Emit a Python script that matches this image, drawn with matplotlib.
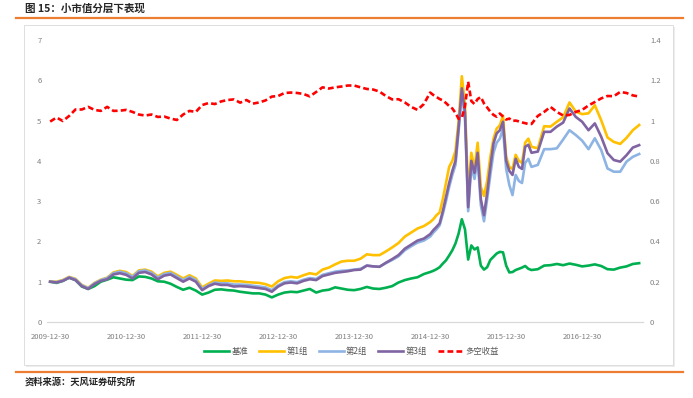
import matplotlib
matplotlib.use("Agg")
import matplotlib.pyplot as plt
from matplotlib.lines import Line2D
from matplotlib.patches import Rectangle

plt.rcParams["font.family"] = ["Noto Sans CJK SC", "DejaVu Sans"]

# Місяці від 2009-12-30 (у 2015 році крок півмісяця)
months = list(range(0, 60)) + [60 + 0.5 * i for i in range(33)] + list(range(77, 94))

tick_months = [0, 12, 24, 36, 48, 60, 72, 84]
tick_labels = ["2009-12-30", "2010-12-30", "2011-12-30", "2012-12-30",
               "2013-12-30", "2014-12-30", "2015-12-30", "2016-12-30"]

base = [
    1.00, 0.97, 1.02, 1.10, 1.04, 0.88, 0.82, 0.89, 1.00, 1.05,
    1.11, 1.08, 1.05, 1.04, 1.13, 1.12, 1.08, 1.01, 1.00, 0.95,
    0.87, 0.80, 0.85, 0.78, 0.68, 0.73, 0.80, 0.81, 0.79, 0.78,
    0.75, 0.73, 0.71, 0.71, 0.68, 0.61, 0.68, 0.73, 0.75, 0.74,
    0.78, 0.82, 0.73, 0.78, 0.80, 0.86, 0.83, 0.80, 0.79, 0.82,
    0.87, 0.83, 0.82, 0.85, 0.89, 0.98, 1.04, 1.08, 1.11, 1.19,
    1.24, 1.27, 1.31, 1.36, 1.45, 1.53, 1.65, 1.78, 1.95, 2.20, 2.55,
    2.30, 1.55, 1.90, 1.80, 1.85, 1.40, 1.30, 1.36, 1.54, 1.62, 1.70,
    1.74, 1.73, 1.40, 1.23, 1.24, 1.29, 1.32, 1.35, 1.39, 1.32, 1.29,
    1.31, 1.40, 1.41, 1.44, 1.41, 1.45, 1.42, 1.38, 1.40, 1.43,
    1.39, 1.31, 1.30, 1.35, 1.38, 1.44, 1.46,
]

group1 = [
    1.00, 1.00, 1.04, 1.12, 1.07, 0.92, 0.85, 0.97, 1.05, 1.10,
    1.23, 1.27, 1.24, 1.14, 1.28, 1.30, 1.25, 1.13, 1.22, 1.25,
    1.17, 1.08, 1.16, 1.08, 0.86, 0.95, 1.03, 1.02, 1.03, 1.01,
    1.01, 0.99, 0.98, 0.97, 0.94, 0.88, 1.01, 1.09, 1.12, 1.10,
    1.16, 1.21, 1.18, 1.30, 1.35, 1.43, 1.50, 1.52, 1.52, 1.57,
    1.68, 1.66, 1.66, 1.75, 1.85, 1.96, 2.12, 2.22, 2.32, 2.38,
    2.48, 2.55, 2.65, 2.72, 3.05, 3.45, 3.85, 4.00, 4.25, 5.00, 6.10,
    5.40, 3.15, 4.20, 3.80, 4.45, 3.35, 3.13, 3.50, 4.10, 4.55, 4.80,
    4.88, 5.12, 4.10, 3.85, 3.80, 4.15, 4.00, 3.95, 4.45, 4.55, 4.35,
    4.31, 4.86, 4.85, 4.97, 5.08, 5.45, 5.22, 5.16, 5.18, 5.38,
    5.01, 4.58, 4.47, 4.42, 4.57, 4.76, 4.89,
]

group2 = [
    1.00, 0.99, 1.03, 1.11, 1.06, 0.91, 0.84, 0.96, 1.04, 1.09,
    1.21, 1.25, 1.21, 1.12, 1.26, 1.28, 1.22, 1.10, 1.19, 1.22,
    1.13, 1.04, 1.12, 1.04, 0.82, 0.91, 0.98, 0.96, 0.96, 0.93,
    0.93, 0.92, 0.90, 0.88, 0.86, 0.79, 0.91, 0.99, 1.01, 0.99,
    1.05, 1.09, 1.07, 1.17, 1.21, 1.25, 1.27, 1.28, 1.30, 1.32,
    1.40, 1.38, 1.37, 1.46, 1.54, 1.63, 1.78, 1.88, 1.97, 2.02,
    2.12, 2.22, 2.30, 2.40, 2.68, 3.00, 3.35, 3.65, 3.90, 4.75, 5.70,
    5.05, 2.75, 3.85, 3.55, 4.05, 2.90, 2.50, 3.05, 3.65, 4.20, 4.45,
    4.55, 4.80, 3.80, 3.40, 3.15, 3.65, 3.50, 3.45, 3.95, 4.05, 3.85,
    3.90, 4.29, 4.29, 4.31, 4.53, 4.76, 4.64, 4.50, 4.29, 4.56,
    4.27, 3.81, 3.73, 3.73, 3.98, 4.10, 4.17,
]

group3 = [
    1.00, 0.98, 1.02, 1.10, 1.04, 0.89, 0.82, 0.94, 1.02, 1.06,
    1.18, 1.21, 1.17, 1.08, 1.22, 1.24, 1.18, 1.06, 1.15, 1.18,
    1.09, 1.00, 1.08, 1.00, 0.79, 0.89, 0.95, 0.92, 0.92, 0.88,
    0.89, 0.88, 0.86, 0.84, 0.82, 0.75, 0.88, 0.96, 0.98, 0.96,
    1.02, 1.06, 1.04, 1.14, 1.18, 1.22, 1.24, 1.26, 1.29, 1.30,
    1.40, 1.38, 1.37, 1.47, 1.56, 1.66, 1.82, 1.92, 2.02, 2.07,
    2.18, 2.28, 2.36, 2.45, 2.75, 3.10, 3.45, 3.75, 4.00, 4.85, 5.80,
    5.20, 2.85, 4.00, 3.70, 4.20, 3.05, 2.65, 3.20, 3.85, 4.43, 4.68,
    4.76, 4.97, 4.00, 3.75, 3.65, 4.05, 3.85, 3.80, 4.35, 4.40, 4.20,
    4.23, 4.72, 4.72, 4.85, 4.95, 5.30, 5.09, 4.97, 4.76, 4.93,
    4.60, 4.19, 4.02, 3.98, 4.14, 4.33, 4.39,
]

# Права вісь
long_short = [
    0.995, 1.015, 0.998, 1.023, 1.055, 1.055, 1.068, 1.053, 1.048, 1.068,
    1.048, 1.049, 1.053, 1.043, 1.030, 1.025, 1.030, 1.018, 1.020, 1.010,
    1.003, 1.030, 1.048, 1.043, 1.077, 1.087, 1.082, 1.095, 1.102, 1.105,
    1.089, 1.102, 1.084, 1.090, 1.100, 1.119, 1.122, 1.137, 1.139, 1.137,
    1.132, 1.120, 1.142, 1.165, 1.159, 1.165, 1.169, 1.174, 1.174, 1.165,
    1.157, 1.154, 1.144, 1.122, 1.105, 1.106, 1.090, 1.068, 1.053, 1.082,
    1.139, 1.127, 1.117, 1.107, 1.100, 1.087, 1.072, 1.060, 1.038, 1.008, 1.013,
    1.072, 1.193, 1.097, 1.082, 1.107, 1.117, 1.085, 1.065, 1.044, 1.028, 1.019,
    1.035, 1.020, 1.005, 1.010, 0.998, 1.000, 0.996, 0.991, 0.987, 0.983, 0.983,
    1.023, 1.043, 1.068, 1.043, 1.025, 1.028, 1.043, 1.053, 1.075, 1.092,
    1.110, 1.122, 1.121, 1.142, 1.137, 1.125, 1.119,
]

series = [
    ("基准", base, "#00B050"),
    ("第1组", group1, "#FFC000"),
    ("第2组", group2, "#8EB4E3"),
    ("第3组", group3, "#8064A2"),
]

TICK_COLOR = "#7F7F7F"


def draw_frame(fig):
    # Рамка діаграми з легкою тінню і помаранчеві лінії
    fig.patches.append(Rectangle((0.037, 0.078), 0.9365, 0.8543, transform=fig.transFigure,
                                 facecolor="#EDEDED", edgecolor="none", zorder=-2))
    fig.patches.append(Rectangle((0.0346, 0.0829), 0.9365, 0.8543, transform=fig.transFigure,
                                 facecolor="white", edgecolor="#D9D9D9", lw=0.6, zorder=-1))
    for y in (0.956, 0.0653):
        fig.lines.append(Line2D([0.023, 0.986], [y, y], transform=fig.transFigure,
                                color="#ED7D31", lw=1.6))
    fig.text(0.036, 0.978, "图 15：小市值分层下表现", fontsize=7.6, fontweight="bold",
             color="#262626", va="center", ha="left")
    fig.text(0.036, 0.040, "资料来源：天风证券研究所", fontsize=6.7, fontweight="bold",
             color="#262626", va="center", ha="left")


def plot_chart():
    fig = plt.figure(figsize=(6.93, 3.98), dpi=100)
    draw_frame(fig)

    ax = fig.add_axes([0.0678, 0.191, 0.86, 0.7085])
    ax.patch.set_alpha(0)
    for label, values, color in series:
        ax.plot(months, values, color=color, lw=1.9, label=label, solid_joinstyle="round")
    ax.set_xlim(-0.5, 93.6)
    ax.set_ylim(0, 7)
    ax.set_xticks(tick_months)
    ax.set_xticklabels(tick_labels)
    ax.set_yticks(range(0, 8))

    ax2 = ax.twinx()
    ax2.plot(months, long_short, color="#FF0000", lw=1.9, dashes=(2.2, 1.2), label="多空收益")
    ax2.set_ylim(0, 1.4)
    ax2.set_yticks([0, 0.2, 0.4, 0.6, 0.8, 1.0, 1.2, 1.4])
    ax2.set_yticklabels(["0", "0.2", "0.4", "0.6", "0.8", "1", "1.2", "1.4"])

    for a in (ax, ax2):
        for side in ("top", "left", "right"):
            a.spines[side].set_visible(False)
        a.spines["bottom"].set_color("#D9D9D9")
        a.spines["bottom"].set_linewidth(0.8)
        a.tick_params(length=0, labelsize=5.5, colors=TICK_COLOR)
    ax.tick_params(axis="x", pad=8)
    ax.tick_params(axis="y", pad=4)
    ax2.tick_params(axis="y", pad=5)

    handles = ax.get_lines() + ax2.get_lines()
    fig.legend(handles, [h.get_label() for h in handles], loc="center",
               bbox_to_anchor=(0.507, 0.118), ncol=5, frameon=False, fontsize=6,
               handlelength=3.0, handletextpad=0.3, columnspacing=1.3,
               labelcolor="#595959")

    fig.savefig("out.png", dpi=100)


if __name__ == "__main__":
    plot_chart()
